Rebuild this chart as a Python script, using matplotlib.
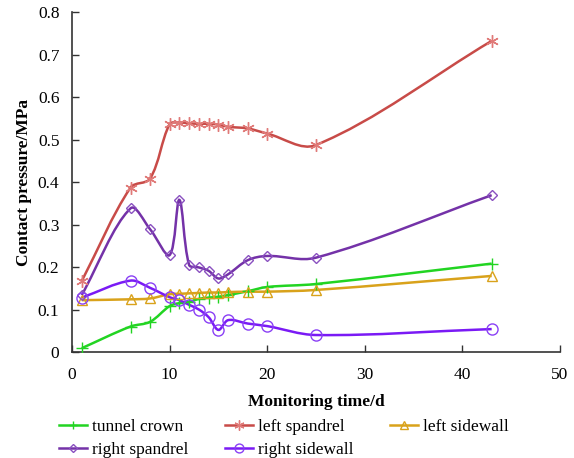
import matplotlib
matplotlib.use('Agg')
import matplotlib.pyplot as plt
from matplotlib.path import Path
from matplotlib.patches import PathPatch
from matplotlib.lines import Line2D
from matplotlib.ticker import FuncFormatter

plt.rcParams['font.family'] = ['Liberation Serif', 'DejaVu Serif']

# monitoring days
days = [1, 6, 8, 10, 11, 12, 13, 14, 15, 16, 18, 20, 25, 43]

# contact pressure (MPa)
tunnel_crown = [0.009, 0.060, 0.071, 0.108, 0.115, 0.118, 0.125, 0.128, 0.130, 0.134, 0.143, 0.153, 0.160, 0.208]
left_spandrel = [0.167, 0.387, 0.408, 0.536, 0.540, 0.538, 0.537, 0.537, 0.535, 0.530, 0.526, 0.514, 0.487, 0.732]
left_sidewall = [0.122, 0.124, 0.126, 0.136, 0.137, 0.138, 0.139, 0.140, 0.140, 0.141, 0.142, 0.142, 0.146, 0.179]
right_spandrel = [0.134, 0.338, 0.289, 0.228, 0.358, 0.205, 0.199, 0.191, 0.173, 0.183, 0.216, 0.226, 0.222, 0.369]
right_sidewall = [0.128, 0.168, 0.151, 0.129, 0.122, 0.111, 0.100, 0.082, 0.052, 0.075, 0.067, 0.061, 0.040, 0.054]

names = ["tunnel crown", "left spandrel", "left sidewall", "right spandrel", "right sidewall"]

# rough pixel size of one data unit, so the smoothing works on screen shape
SX, SY = 9.76, 425.0


def smooth_path(x, y, t=0.34):
    """Excel-like smoothed line: bezier segments, handles scaled by chord length."""
    pts = [(a * SX, b * SY) for a, b in zip(x, y)]
    n = len(pts)

    def dist(p, q):
        return ((p[0] - q[0]) ** 2 + (p[1] - q[1]) ** 2) ** 0.5

    verts = [pts[0]]
    codes = [Path.MOVETO]
    for i in range(n - 1):
        p0 = pts[i - 1] if i > 0 else pts[i]
        p1 = pts[i]
        p2 = pts[i + 1]
        p3 = pts[i + 2] if i + 2 < n else pts[i + 1]
        d01, d12, d23 = dist(p0, p1), dist(p1, p2), dist(p2, p3)
        f1 = t * d12 / (d01 + d12) if d01 + d12 > 0 else 0
        f2 = t * d12 / (d12 + d23) if d12 + d23 > 0 else 0
        c1 = (p1[0] + (p2[0] - p0[0]) * f1, p1[1] + (p2[1] - p0[1]) * f1)
        c2 = (p2[0] - (p3[0] - p1[0]) * f2, p2[1] - (p3[1] - p1[1]) * f2)
        verts += [c1, c2, p2]
        codes += [Path.CURVE4] * 3
    verts = [(a / SX, b / SY) for a, b in verts]
    return Path(verts, codes)


fig = plt.figure(figsize=(5.74, 4.58), dpi=100)
ax = fig.add_axes([0.1254, 0.2314, 0.8502, 0.7424])

series = [
    (tunnel_crown, '#22D422', '#22D422', '+', 8, 1.0),
    (left_spandrel, '#C84B48', '#E07A78', (6, 2, 0), 9, 1.0),
    (left_sidewall, '#D9A21B', '#D9A21B', '^', 7, 1.0),
    (right_spandrel, '#7432A8', '#8A50C0', 'D', 5, 1.0),
    (right_sidewall, '#7A1AF5', '#8A40F5', 'o', 8, 1.0),
]

handles = []
for (vals, lc, mc, mk, ms, mew), name in zip(series, names):
    ax.add_patch(PathPatch(smooth_path(days, vals), facecolor='none',
                           edgecolor=lc, lw=1.8, zorder=2))
    ax.plot(days, vals, linestyle='none', marker=mk, markersize=ms,
            markerfacecolor='none', markeredgecolor=mc, markeredgewidth=mew, zorder=3)
    handles.append(Line2D([], [], color=lc, lw=1.8, marker=mk, markersize=ms * 0.8,
                          markerfacecolor='none', markeredgecolor=mc,
                          markeredgewidth=mew, label=name))

ax.set_xlim(0, 50)
ax.set_ylim(0, 0.8)
ax.set_xticks([0, 10, 20, 30, 40, 50])
ax.set_yticks([0, 0.1, 0.2, 0.3, 0.4, 0.5, 0.6, 0.7, 0.8])
ax.yaxis.set_major_formatter(FuncFormatter(lambda v, p: '%g' % round(v, 2)))
ax.tick_params(direction='in', length=5, width=1, colors='#333333',
               labelsize=12.5, labelcolor='black')
ax.tick_params(axis='x', pad=11)
ax.tick_params(axis='y', pad=9)
ax.spines['top'].set_visible(False)
ax.spines['right'].set_visible(False)
for s in ['left', 'bottom']:
    ax.spines[s].set_color('#333333')
    ax.spines[s].set_linewidth(1.2)

ax.set_xlabel('Monitoring time/d', fontsize=12.5, fontweight='bold', labelpad=8)
ax.set_ylabel('Contact pressure/MPa', fontsize=12.5, fontweight='bold', labelpad=4)

order = [0, 3, 1, 4, 2]
fig.legend([handles[i] for i in order], [names[i] for i in order],
           loc='upper left', bbox_to_anchor=(0.0915, 0.1006), ncol=3, frameon=False,
           fontsize=12.5, handlelength=1.6, columnspacing=2.1, handletextpad=0.3,
           labelspacing=0.42, borderaxespad=0)

fig.savefig('out.png', dpi=100)
